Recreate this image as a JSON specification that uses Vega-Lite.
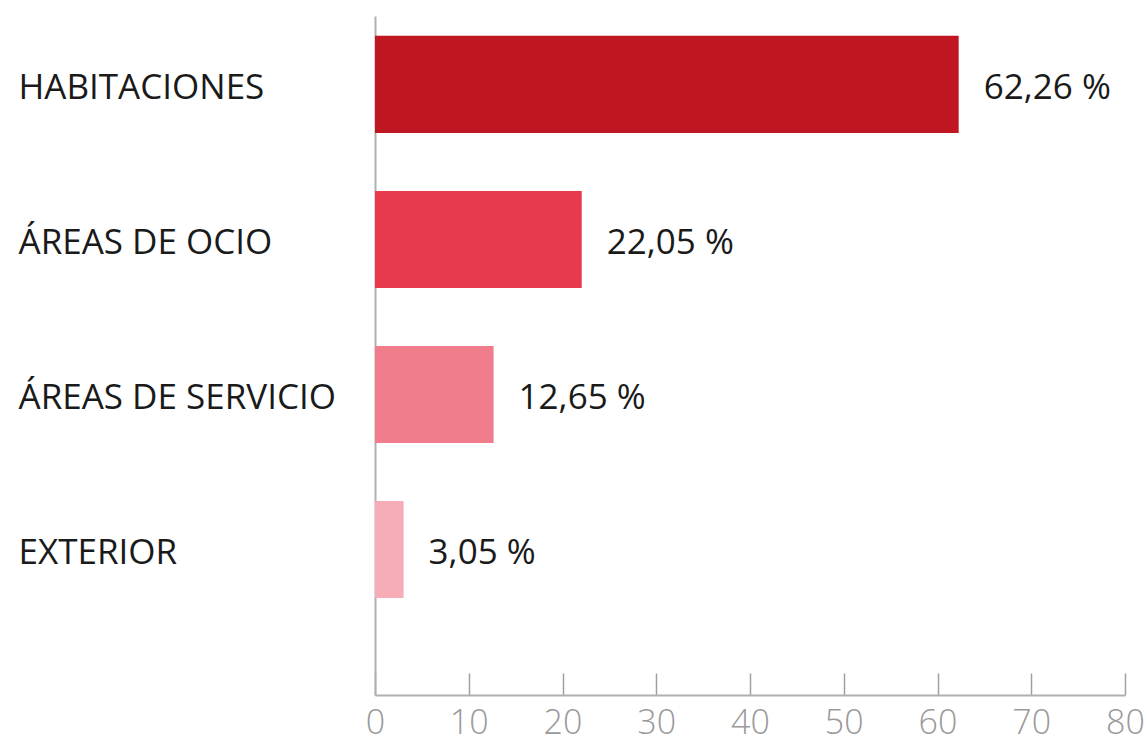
{
  "$schema": "https://vega.github.io/schema/vega-lite/v6.json",
  "width": 750,
  "height": 679,
  "autosize": {"type": "none"},
  "padding": {"left": 375, "top": 16, "right": 20, "bottom": 48},
  "background": "white",
  "config": {"view": {"stroke": null}, "font": "Open Sans"},
  "data": {
    "values": [
      {"zona": "HABITACIONES", "pct": 62.26, "etiqueta": "62,26 %"},
      {"zona": "ÁREAS DE OCIO", "pct": 22.05, "etiqueta": "22,05 %"},
      {"zona": "ÁREAS DE SERVICIO", "pct": 12.65, "etiqueta": "12,65 %"},
      {"zona": "EXTERIOR", "pct": 3.05, "etiqueta": "3,05 %"}
    ]
  },
  "encoding": {
    "y": {
      "field": "zona",
      "type": "nominal",
      "sort": null,
      "scale": {"paddingInner": 0.374, "paddingOuter": 0.377, "align": 0.17},
      "axis": {
        "title": null,
        "ticks": false,
        "labelAlign": "left",
        "labelPadding": 357,
        "labelLimit": 0,
        "labelOffset": 4,
        "labelFontSize": 35,
        "labelColor": "#1a1a1a",
        "labelFont": "Open Sans",
        "domainColor": "#b0b0b0",
        "domainWidth": 2
      }
    },
    "x": {
      "field": "pct",
      "type": "quantitative",
      "scale": {"domain": [0, 80], "nice": false},
      "axis": {
        "title": null,
        "values": [0, 10, 20, 30, 40, 50, 60, 70, 80],
        "grid": false,
        "tickSize": -22,
        "tickColor": "#a0a0a0",
        "tickWidth": 1.5,
        "domainColor": "#b0b0b0",
        "domainWidth": 2,
        "labelPadding": 33,
        "labelFontSize": 34,
        "labelFontWeight": 300,
        "labelColor": "#9a9a9a",
        "labelFlush": false
      }
    }
  },
  "layer": [
    {
      "mark": {"type": "bar"},
      "encoding": {
        "color": {
          "field": "zona",
          "type": "nominal",
          "legend": null,
          "scale": {
            "domain": ["HABITACIONES", "ÁREAS DE OCIO", "ÁREAS DE SERVICIO", "EXTERIOR"],
            "range": ["#c01622", "#e8394f", "#f07c8c", "#f6adb7"]
          }
        }
      }
    },
    {
      "mark": {"type": "text", "align": "left", "dx": 25, "dy": 4, "fontSize": 35, "color": "#1a1a1a", "font": "Open Sans"},
      "encoding": {"text": {"field": "etiqueta"}}
    }
  ]
}
